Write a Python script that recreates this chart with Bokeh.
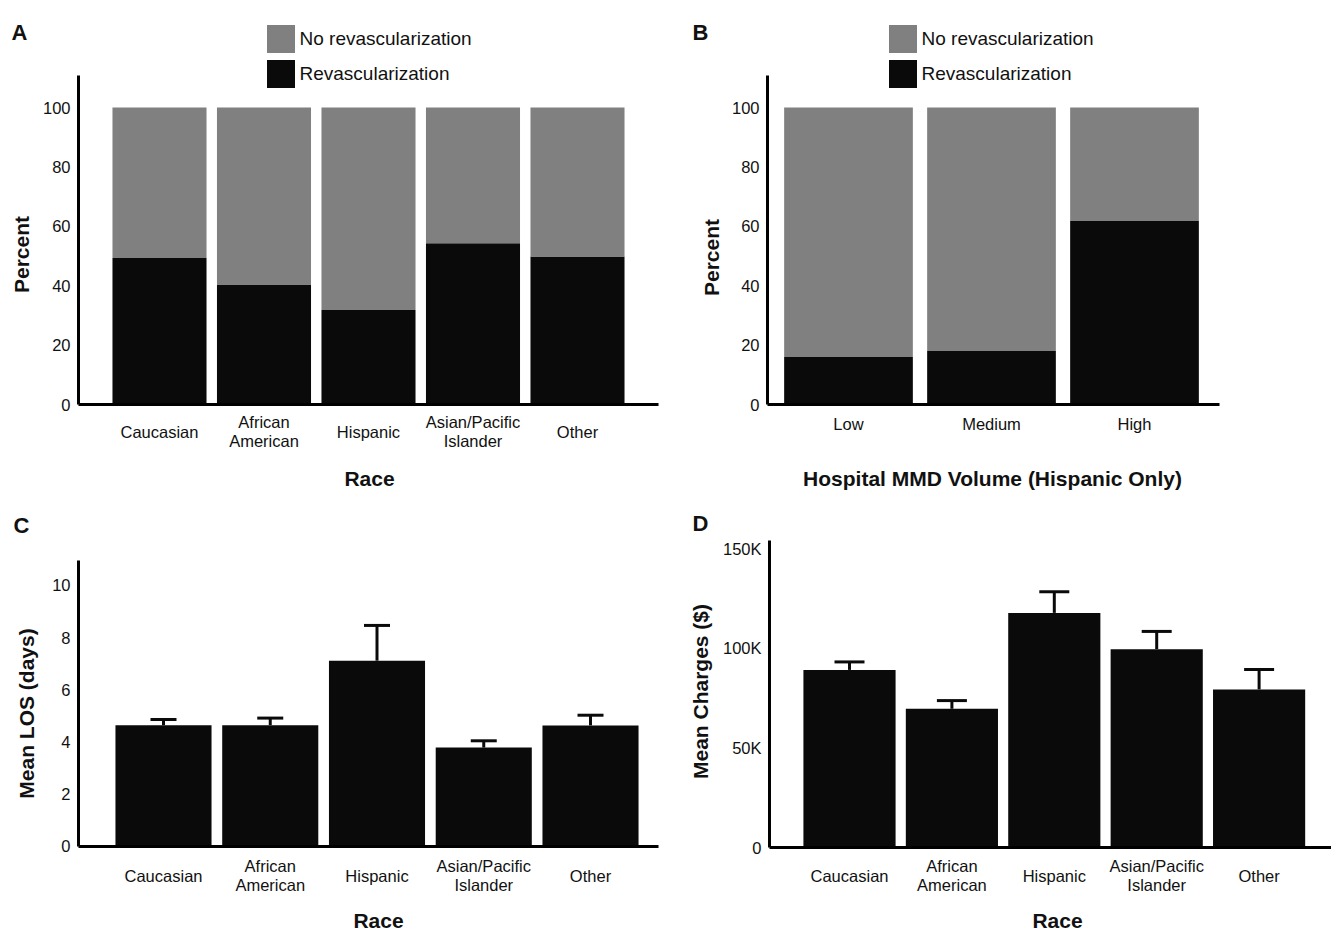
import math
from bokeh.plotting import figure
from bokeh.layouts import column, row
from bokeh.models import (ColumnDataSource, FixedTicker, Range1d, Legend, LegendItem,
                          Whisker, TeeHead, Label, LabelSet)
from bokeh.core.properties import value
from bokeh.embed import file_html
from bokeh.resources import INLINE

# ---------------- data ----------------
races = ["Caucasian", "African\nAmerican", "Hispanic", "Asian/Pacific\nIslander", "Other"]
revasc_pct_race = [49.3, 40.4, 31.8, 54.3, 49.8]

volumes = ["Low", "Medium", "High"]
revasc_pct_volume = [16.0, 18.0, 61.8]

los_mean = [4.65, 4.65, 7.12, 3.79, 4.64]
los_upper = [4.87, 4.92, 8.47, 4.05, 5.03]

charges_mean = [89100, 69600, 117700, 99500, 79300]
charges_upper = [93100, 73700, 128300, 108400, 89300]

pct_ticks = [0, 20, 40, 60, 80, 100]
los_ticks = [0, 2, 4, 6, 8, 10]
charge_ticks = [0, 50000, 100000, 150000]
charge_tick_labels = ["0", "50K", "100K", "150K"]

# ---------------- style ----------------
FONT = "'Liberation Sans', Arial, sans-serif"
BLACK = "#0a0a0a"
GRAY = "#808080"
TXT = "#111111"


def make_fig(w, h, xr, yr):
    p = figure(width=w, height=h, x_range=Range1d(*xr), y_range=Range1d(*yr),
               min_border=0, min_border_left=0, min_border_right=0,
               min_border_top=0, min_border_bottom=0,
               output_backend="svg", toolbar_location=None)
    p.xgrid.visible = False
    p.ygrid.visible = False
    p.outline_line_color = None
    p.background_fill_color = "white"
    p.border_fill_color = "white"
    return p


def axes(p, x_at, x_bounds, y_top, yticks, ylabels=None):
    for ax in (p.xaxis[0], p.yaxis[0]):
        ax.axis_line_width = 3
        ax.axis_line_color = "black"
        ax.major_tick_line_color = None
        ax.minor_tick_line_color = None
        ax.major_tick_out = 0
        ax.major_tick_in = 0
        ax.minor_tick_out = 0
        ax.minor_tick_in = 0
        ax.major_label_text_font = FONT
        ax.major_label_text_font_size = "16.5px"
        ax.major_label_text_color = TXT
    p.xaxis.fixed_location = 0
    p.xaxis.bounds = x_bounds
    p.xaxis.ticker = FixedTicker(ticks=[])
    p.yaxis.fixed_location = x_at
    p.yaxis.bounds = (0, y_top)
    p.yaxis.ticker = FixedTicker(ticks=yticks)
    p.yaxis.major_label_standoff = 8
    if ylabels is not None:
        p.yaxis.major_label_overrides = {t: l for t, l in zip(yticks, ylabels)}


def cat_labels(p, xpos, labels, y_center, step=19):
    xs, ys, ts = [], [], []
    for x, lab in zip(xpos, labels):
        lines = lab.split("\n")
        n = len(lines)
        for i, ln in enumerate(lines):
            xs.append(x)
            ys.append(y_center + ((n - 1) / 2 - i) * step)
            ts.append(ln)
    src = ColumnDataSource(dict(x=xs, y=ys, text=ts))
    p.add_layout(LabelSet(x="x", y="y", y_units="screen", text="text", source=src,
                          text_align="center", text_baseline="middle",
                          text_font=value(FONT), text_font_size=value("16.5px"),
                          text_color=TXT))


def text(p, s, x, y, size="21px", bold=True, angle=0.0, align="center",
         baseline="middle"):
    p.add_layout(Label(x=x, y=y, x_units="screen", y_units="screen", text=s,
                       angle=angle, text_align=align, text_baseline=baseline,
                       text_font=FONT, text_font_size=size,
                       text_font_style="bold" if bold else "normal",
                       text_color=TXT))


def stacked(p, xpos, revasc, legend_x, legend_y):
    src = ColumnDataSource(dict(x=xpos, revasc=revasc, norevasc=[100 - v for v in revasc]))
    rs = p.vbar_stack(["revasc", "norevasc"], x="x", width=0.9, source=src,
                      fill_color=[BLACK, GRAY], line_color=None)
    leg = Legend(items=[LegendItem(label="No revascularization", renderers=[rs[1]]),
                        LegendItem(label="Revascularization", renderers=[rs[0]])],
                 location=(legend_x, legend_y), glyph_width=35, glyph_height=35,
                 label_height=35, spacing=0, padding=0, margin=0, label_standoff=2,
                 border_line_color=None, background_fill_alpha=0,
                 label_text_font=FONT, label_text_font_size="19px",
                 label_text_color=TXT)
    p.add_layout(leg)


def errbars(p, xpos, mean, upper, cap):
    src = ColumnDataSource(dict(x=xpos, mean=mean, upper=upper))
    p.vbar(x="x", top="mean", width=0.9, source=src, fill_color=BLACK, line_color=None)
    p.add_layout(Whisker(source=src, base="x", upper="upper", lower="mean",
                         line_width=3, line_color=BLACK,
                         upper_head=TeeHead(size=cap, line_width=3, line_color=BLACK),
                         lower_head=None))


VERT = math.pi / 2
xa = list(range(1, len(races) + 1))
xb = list(range(1, len(volumes) + 1))

# ---------------- A ----------------
pA = make_fig(660, 490, (-0.5215, 5.7943), (-28.956, 136.027))
stacked(pA, xa, revasc_pct_race, 262.5, 399)
axes(pA, 0.2249, (0.2249, 5.775), 110.8, pct_ticks)
cat_labels(pA, xa, races, 59)
text(pA, "Race", 369, 12)
text(pA, "Percent", 21, 236, angle=VERT)
text(pA, "A", 11, 458, size="22px", align="left", baseline="alphabetic")

# ---------------- B ----------------
pB = make_fig(671, 490, (-0.3147, 4.3776), (-28.956, 136.027))
stacked(pB, xb, revasc_pct_volume, 224.5, 399)
axes(pB, 0.4336, (0.4336, 3.591), 110.8, pct_ticks)
cat_labels(pB, xb, volumes, 67)
text(pB, "Hospital MMD Volume (Hispanic Only)", 332, 12)
text(pB, "Percent", 51, 233, angle=VERT)
text(pB, "B", 32, 458, size="22px", align="left", baseline="alphabetic")

# ---------------- C ----------------
pC = make_fig(660, 441, (-0.5269, 5.6557), (-3.2567, 13.6398))
errbars(pC, xa, los_mean, los_upper, 26)
axes(pC, 0.2037, (0.2037, 5.637), 10.958, los_ticks)
cat_labels(pC, xa, races, 56)
text(pC, "Race", 378, 11)
text(pC, "Mean LOS (days)", 26, 218, angle=VERT)
text(pC, "C", 13, 406, size="22px", align="left", baseline="alphabetic")

# ---------------- D ----------------
pD = make_fig(671, 441, (-0.8457, 5.707), (-42140, 179097))
errbars(pD, xa, charges_mean, charges_upper, 30)
axes(pD, 0.2188, (0.2188, 5.707), 154013, charge_ticks, charge_tick_labels)
cat_labels(pD, xa, races, 56)
text(pD, "Race", 397, 11)
text(pD, "Mean Charges ($)", 40, 240, angle=VERT)
text(pD, "D", 32, 408, size="22px", align="left", baseline="alphabetic")

layout = column(row(pA, pB), row(pC, pD))
open("out.html", "w").write(file_html(layout, INLINE))
